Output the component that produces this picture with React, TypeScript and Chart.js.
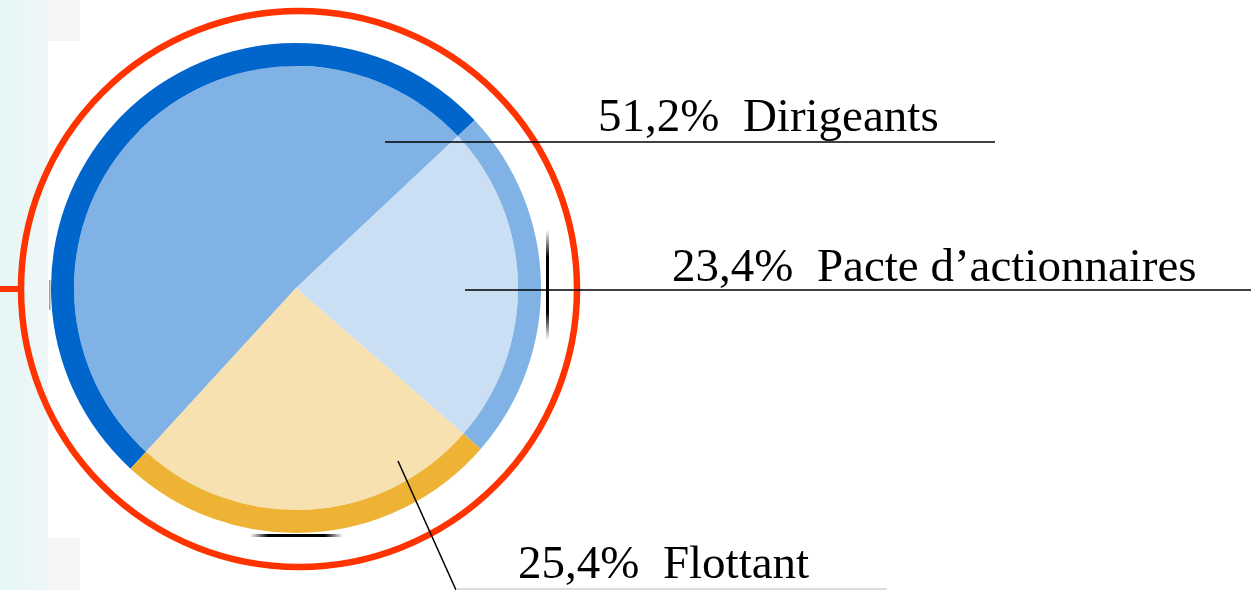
import React, { useEffect, useRef } from "react";
import { Chart, registerables } from "chart.js";

Chart.register(...registerables);

const categories = ["Dirigeants", "Pacte d’actionnaires", "Flottant"];
const shares = [51.2, 23.4, 25.4];
const shareLabels = ["51,2%", "23,4%", "25,4%"];
const fillColors = ["#80B2E6", "#CBDFF4", "#F7E1B0"];
const ringColors = ["#0066CC", "#80B2E6", "#EEB334"];

// annotation layout (pixel offsets relative to the pie centre)
const labelTextPos = [
  { x: 302, y: -157 },
  { x: 376, y: -7 },
  { x: 222, y: 290 },
];
const leaderLines = [
  [{ x: 89, y: -146 }, { x: 699, y: -146 }],
  [{ x: 169, y: 2 }, { x: 960, y: 2 }],
  [{ x: 102, y: 173 }, { x: 160, y: 302 }],
];

const overlayPlugin = {
  id: "overlay",
  beforeDraw(chart: any) {
    const ctx = chart.ctx;
    const W = chart.width;
    const H = chart.height;
    ctx.save();
    ctx.fillStyle = "#ffffff";
    ctx.fillRect(0, 0, W, H);
    ctx.fillStyle = "#F5F6F6";
    ctx.fillRect(0, 0, 80, H);
    const g = ctx.createLinearGradient(0, 0, 48, 0);
    g.addColorStop(0, "#E6F6F6");
    g.addColorStop(1, "#EFF7F7");
    ctx.fillStyle = g;
    ctx.fillRect(0, 0, 48, H);
    ctx.fillStyle = "#ffffff";
    ctx.fillRect(48, 41, 40, 497);
    ctx.restore();
  },
  afterDraw(chart: any) {
    const ctx = chart.ctx;
    const arc = chart.getDatasetMeta(0).data[0];
    if (!arc) return;
    const cx = arc.x;
    const cy = arc.y;
    const R = arc.outerRadius;
    ctx.save();
    const gv = ctx.createLinearGradient(0, cy - 58, 0, cy + 52);
    gv.addColorStop(0, "rgba(0,0,0,0)");
    gv.addColorStop(0.25, "rgba(0,0,0,1)");
    gv.addColorStop(0.75, "rgba(0,0,0,1)");
    gv.addColorStop(1, "rgba(0,0,0,0)");
    ctx.fillStyle = gv;
    ctx.fillRect(cx + R + 5, cy - 58, 3, 110);
    const gh = ctx.createLinearGradient(cx - 46, 0, cx + 47, 0);
    gh.addColorStop(0, "rgba(0,0,0,0)");
    gh.addColorStop(0.2, "rgba(0,0,0,1)");
    gh.addColorStop(0.8, "rgba(0,0,0,1)");
    gh.addColorStop(1, "rgba(0,0,0,0)");
    ctx.fillStyle = gh;
    ctx.fillRect(cx - 46, cy + R + 1, 93, 3);
    ctx.fillStyle = "rgba(90,90,90,0.6)";
    ctx.fillRect(cx - R - 2, cy - 8, 1.5, 30);

    ctx.strokeStyle = "#FF3300";
    ctx.lineWidth = 6.5;
    ctx.beginPath();
    ctx.arc(cx + 3, cy + 1, R + 33, 0, Math.PI * 2);
    ctx.stroke();
    ctx.fillStyle = "#FF3300";
    ctx.fillRect(0, cy - 2, cx + 3 - (R + 33), 6);

    ctx.strokeStyle = "#000000";
    ctx.lineWidth = 1.5;
    leaderLines.forEach((ln) => {
      ctx.beginPath();
      ctx.moveTo(cx + ln[0].x, cy + ln[0].y);
      ctx.lineTo(cx + ln[1].x, cy + ln[1].y);
      ctx.stroke();
    });
    ctx.strokeStyle = "#D0D0D0";
    ctx.lineWidth = 1.5;
    ctx.beginPath();
    ctx.moveTo(cx + 160, cy + 301);
    ctx.lineTo(cx + 591, cy + 301);
    ctx.stroke();

    ctx.fillStyle = "#000000";
    ctx.font = "47px 'Liberation Serif', 'Times New Roman', serif";
    ctx.textAlign = "left";
    ctx.textBaseline = "alphabetic";
    categories.forEach((c, i) => {
      const p = labelTextPos[i];
      ctx.fillText(shareLabels[i] + "\u00A0 " + c, cx + p.x, cy + p.y);
    });
    ctx.restore();
  },
};

export default function App() {
  const ref = useRef<HTMLCanvasElement>(null);
  useEffect(() => {
    if (!ref.current) return;
    const chart = new Chart(ref.current, {
      type: "doughnut",
      data: {
        labels: categories,
        datasets: [
          {
            data: shares,
            backgroundColor: ringColors,
            borderWidth: 0,
            hoverOffset: 0,
            weight: 23,
          } as any,
          {
            data: shares,
            backgroundColor: fillColors,
            borderWidth: 0,
            hoverOffset: 0,
            weight: 222,
          } as any,
        ],
      },
      options: {
        responsive: false,
        animation: false,
        cutout: 0,
        rotation: 222.5,
        layout: { padding: { left: 51, top: 43, right: 710, bottom: 57 } },
        plugins: {
          legend: { display: false },
          tooltip: { enabled: false },
        },
        events: [],
      },
      plugins: [overlayPlugin],
    });
    return () => chart.destroy();
  }, []);
  return (
    <div style={{ position: "fixed", left: 0, top: 0, width: 1251, height: 590 }}>
      <canvas ref={ref} width={1251} height={590} style={{ display: "block" }} />
    </div>
  );
}
